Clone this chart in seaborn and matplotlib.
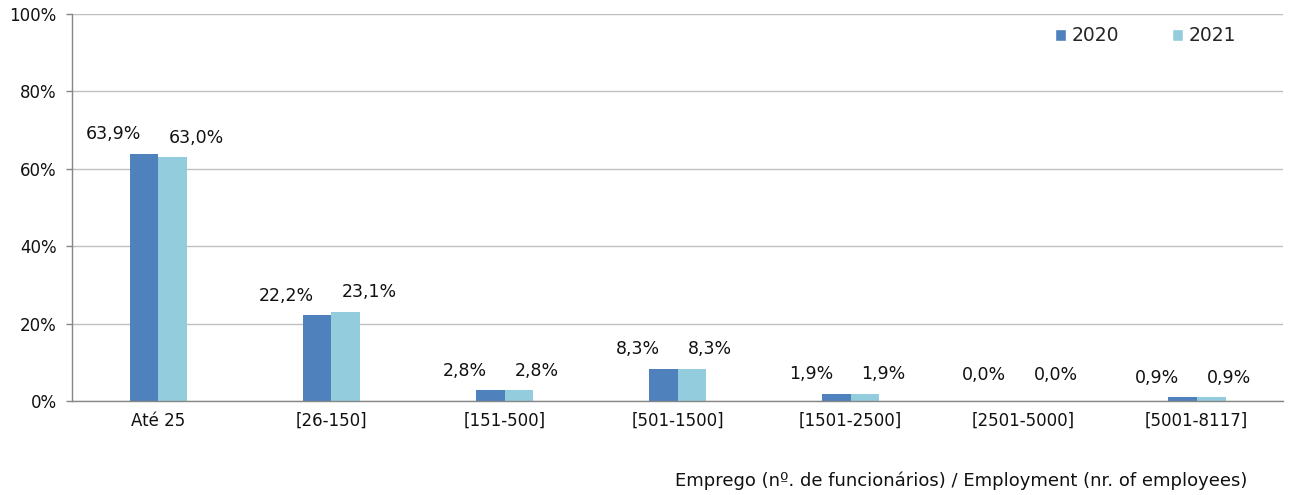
import matplotlib
matplotlib.use("Agg")
import matplotlib.pyplot as plt
import seaborn as sns
import pandas as pd
import numpy as np
from matplotlib.patches import Patch

# dados
categorias = ["Até 25", "[26-150]", "[151-500]", "[501-1500]",
              "[1501-2500]", "[2501-5000]", "[5001-8117]"]
anos = ["2020", "2021"]
valores_2020 = [63.9, 22.2, 2.8, 8.3, 1.9, 0.0, 0.9]
valores_2021 = [63.0, 23.1, 2.8, 8.3, 1.9, 0.0, 0.9]
yticks = [0, 20, 40, 60, 80, 100]
cores = {"2020": "#4F81BD", "2021": "#93CDDD"}
xlabel = "Emprego (nº. de funcionários) / Employment (nr. of employees)"

df = pd.DataFrame({
    "categoria": categorias * 2,
    "ano": ["2020"] * len(categorias) + ["2021"] * len(categorias),
    "valor": valores_2020 + valores_2021,
})

sns.set_style("white")
plt.rcParams["font.family"] = ["DejaVu Sans"]
fig, ax = plt.subplots(figsize=(12.9, 4.95), dpi=100)
fig.subplots_adjust(left=0.0558, right=0.9946, top=0.9717, bottom=0.19)

sns.barplot(data=df, x="categoria", y="valor", hue="ano", order=categorias,
            hue_order=anos, palette=cores, width=0.335, saturation=1,
            linewidth=0, ax=ax, legend=False)

# rotulos de dados
alinh = {"2020": ("right", -2), "2021": ("left", -3)}
for ano, cont in zip(anos, ax.containers):
    ha, dx = alinh[ano]
    for bar in cont:
        v = bar.get_height()
        txt = f"{v:.1f}".replace(".", ",") + "%"
        ax.annotate(txt, (bar.get_x() + bar.get_width() / 2, v),
                    xytext=(dx, 14 if v > 0.5 else 19),
                    textcoords="offset points", ha=ha, va="center",
                    fontsize=12.5, color="#111111")

# eixos
ax.set_ylim(0, 100)
ax.set_xlim(-0.5, len(categorias) - 0.5)
ax.set_yticks(yticks)
ax.set_yticklabels([f"{t}%" for t in yticks], fontsize=12, color="#111111")
ax.set_xticks(range(len(categorias)))
ax.set_xticklabels(categorias, fontsize=12, color="#111111")
ax.set_xticks(np.arange(-0.5, len(categorias), 1), minor=True)
ax.tick_params(axis="x", which="major", length=0, pad=8)
ax.tick_params(axis="x", which="minor", length=5, color="#868686", width=1)
ax.tick_params(axis="y", length=4, color="#868686", width=1, left=True, pad=7)
ax.set_xlabel("")
ax.set_ylabel("")
ax.grid(axis="y", color="#BFBFBF", linewidth=1)
ax.set_axisbelow(True)
for s in ["top", "right"]:
    ax.spines[s].set_visible(False)
for s in ["left", "bottom"]:
    ax.spines[s].set_color("#868686")
    ax.spines[s].set_linewidth(1)

handles = [Patch(facecolor=cores[a], label=a) for a in anos]
ax.legend(handles=handles, loc="upper right", bbox_to_anchor=(0.975, 1.012),
          ncol=2, frameon=False, fontsize=13.5, handlelength=0.6,
          handleheight=0.6, handletextpad=0.3, columnspacing=2.8)

fig.text(0.967, 0.028, xlabel, ha="right", va="center", fontsize=13,
         color="#111111")

plt.savefig("out.png", dpi=100)
